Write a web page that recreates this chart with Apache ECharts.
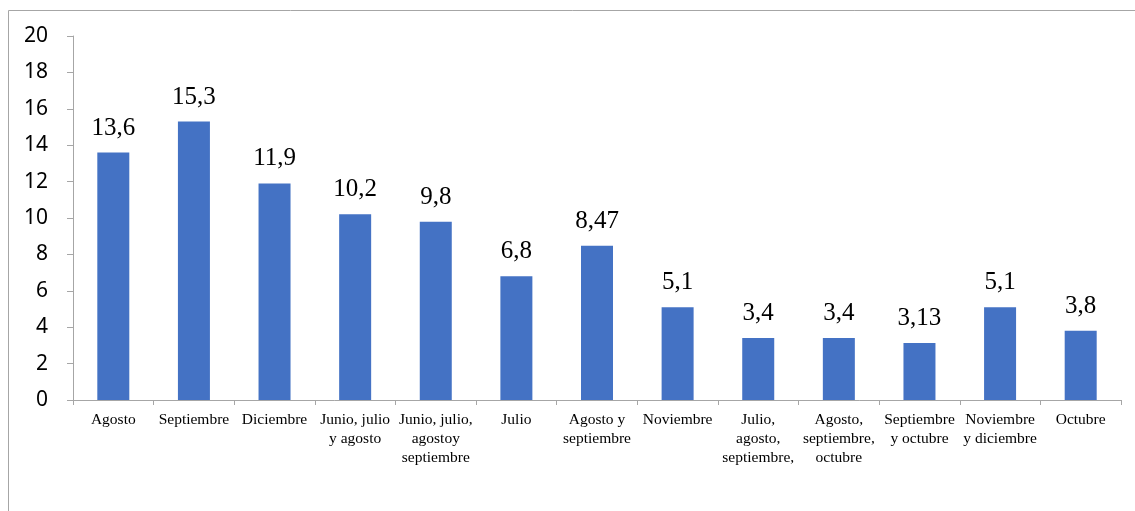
<!DOCTYPE html>
<html><head><meta charset="utf-8">
<script src="https://cdn.jsdelivr.net/npm/echarts@6/dist/echarts.min.js"></script>
<style>html,body{margin:0;padding:0;background:#fff}#c{width:1135px;height:511px}</style>
</head><body><div id="c"></div>
<script>
const categories = ["Agosto","Septiembre","Diciembre","Junio, julio\ny agosto","Junio, julio,\nagostoy\nseptiembre","Julio","Agosto y\nseptiembre","Noviembre","Julio,\nagosto,\nseptiembre,","Agosto,\nseptiembre,\noctubre","Septiembre\ny octubre","Noviembre\ny diciembre","Octubre"];
const values = [13.6,15.3,11.9,10.2,9.8,6.8,8.47,5.1,3.4,3.4,3.13,5.1,3.8];
const yTicks = {min:0,max:20,interval:2};

const chart = echarts.init(document.getElementById('c'), null, {renderer:'canvas'});
chart.setOption({
  animation:false,
  graphic:[{type:'rect',shape:{x:8.5,y:10.5,width:1200,height:600},style:{fill:'none',stroke:'#a6a6a6',lineWidth:1},silent:true}],
  grid:{left:73,right:14,top:36,bottom:111,containLabel:false},
  xAxis:{type:'category',data:categories,
    axisLine:{lineStyle:{color:'#a6a6a6',width:1}},
    axisTick:{show:true,alignWithLabel:false,length:5,lineStyle:{color:'#a6a6a6'}},
    axisLabel:{interval:0,color:'#000',fontFamily:'Liberation Serif',fontSize:15.5,lineHeight:19,margin:10}},
  yAxis:{type:'value',min:yTicks.min,max:yTicks.max,interval:yTicks.interval,
    axisLine:{show:true,lineStyle:{color:'#a6a6a6',width:1}},
    axisTick:{show:true,length:6,lineStyle:{color:'#a6a6a6'}},
    splitLine:{show:false},
    axisLabel:{color:'#000',fontFamily:'Noto Sans',fontSize:21,margin:25}},
  series:[{type:'bar',data:values,barWidth:32,itemStyle:{color:'#4472C4'},
    label:{show:true,position:'top',distance:12,color:'#000',fontFamily:'Liberation Serif',fontSize:25,
      formatter:p=>String(p.value).replace('.',',')}}]
});
</script></body></html>
